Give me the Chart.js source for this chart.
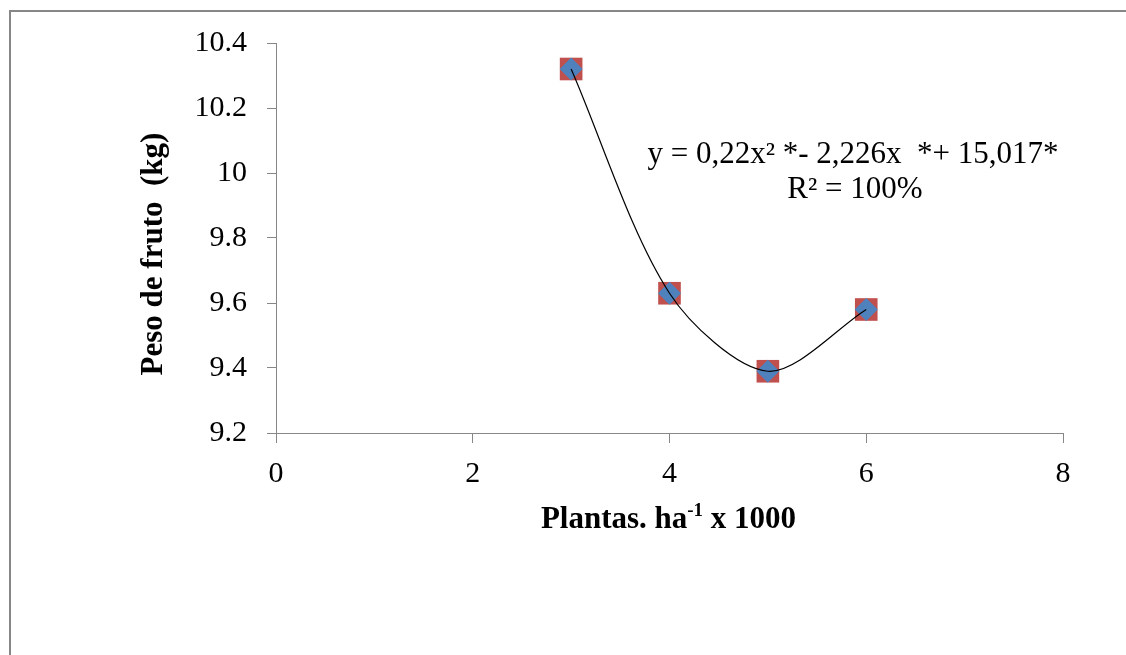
<!DOCTYPE html>
<html>
<head>
<meta charset="utf-8">
<title>Peso de fruto</title>
<script src="https://cdn.jsdelivr.net/npm/chart.js@4.4.1/dist/chart.umd.min.js"></script>
<style>
  html, body { margin: 0; padding: 0; background: #fff; }
  #wrap { width: 1126px; height: 655px; position: relative; }
</style>
</head>
<body>
<div id="wrap"><canvas id="pesoChart" width="1126" height="655"></canvas></div>
<script>
'use strict';

// data
var plantas = [3, 4, 5, 6];                 // Plantas. ha-1 x 1000
var pesoFruto = [10.32, 9.63, 9.39, 9.58];  // kg
var xTicks = [0, 2, 4, 6, 8];
var yTicks = [9.2, 9.4, 9.6, 9.8, 10, 10.2, 10.4];

var equacao = 'y = 0,22x\u00B2 *- 2,226x  *+ 15,017*';
var r2Texto = 'R\u00B2 = 100%';

var serif = "'Liberation Serif', 'Times New Roman', serif";
var axisGray = '#878787';

var points = plantas.map(function (x, i) { return { x: x, y: pesoFruto[i] }; });

// frame + axis titles + equation, drawn on the canvas
var extraText = {
  id: 'extraText',
  beforeDraw: function (chart) {
    var ctx = chart.ctx;
    ctx.save();
    ctx.strokeStyle = axisGray;
    ctx.lineWidth = 2;
    ctx.beginPath();
    ctx.moveTo(10, 655);
    ctx.lineTo(10, 11);
    ctx.lineTo(1126, 11);
    ctx.stroke();
    ctx.restore();
  },
  afterDraw: function (chart) {
    var ctx = chart.ctx;
    var area = chart.chartArea;
    ctx.save();
    ctx.fillStyle = '#000';

    // y title
    ctx.save();
    ctx.translate(154, 254);
    ctx.rotate(-Math.PI / 2);
    ctx.font = 'bold 31px ' + serif;
    ctx.textAlign = 'center';
    ctx.textBaseline = 'middle';
    ctx.fillText('Peso de fruto  (kg)', 0, 0);
    ctx.restore();

    // x title with superscript
    var cx = (area.left + area.right) / 2 - 1;
    var base = 528;
    var big = 'bold 31px ' + serif;
    var small = 'bold 19px ' + serif;
    ctx.textBaseline = 'alphabetic';
    ctx.textAlign = 'left';
    ctx.font = big;
    var p1 = 'Plantas. ha', p3 = ' x 1000';
    var w1 = ctx.measureText(p1).width, w3 = ctx.measureText(p3).width;
    ctx.font = small;
    var w2 = ctx.measureText('-1').width;
    var x0 = cx - (w1 + w2 + w3) / 2;
    ctx.font = big;
    ctx.fillText(p1, x0, base);
    ctx.font = small;
    ctx.fillText('-1', x0 + w1, base - 12);
    ctx.font = big;
    ctx.fillText(p3, x0 + w1 + w2, base);

    // regression equation
    ctx.font = '31px ' + serif;
    ctx.textAlign = 'center';
    ctx.fillText(equacao, 853, 163);
    ctx.fillText(r2Texto, 855, 198);
    ctx.restore();
  }
};

var ctx = document.getElementById('pesoChart').getContext('2d');
var chart = new Chart(ctx, {
  type: 'scatter',
  data: {
    datasets: [
      {
        // trend line through the points, drawn on top
        type: 'line',
        label: 'tendencia',
        data: points,
        borderColor: '#000',
        borderWidth: 1.2,
        pointRadius: 0,
        fill: false,
        tension: 0.3
      },
      {
        label: 'media',
        data: points,
        pointStyle: 'rectRot',
        pointRadius: 11.5,
        backgroundColor: '#4F81BD',
        borderColor: '#4F81BD',
        borderWidth: 0
      },
      {
        label: 'obs',
        data: points,
        pointStyle: 'rect',
        pointRadius: 16,
        backgroundColor: '#C0504D',
        borderColor: '#C0504D',
        borderWidth: 0
      }
    ]
  },
  options: {
    responsive: false,
    animation: false,
    devicePixelRatio: 1,
    layout: { padding: { left: 0, top: 43, right: 63, bottom: 0 } },
    plugins: {
      legend: { display: false },
      tooltip: { enabled: false }
    },
    scales: {
      x: {
        type: 'linear',
        min: 0,
        max: 8,
        afterBuildTicks: function (scale) {
          scale.ticks = xTicks.map(function (v) { return { value: v }; });
        },
        afterFit: function (scale) { scale.height = 222; },
        grid: { drawOnChartArea: false, tickLength: 10, color: axisGray },
        border: { color: axisGray, width: 1 },
        ticks: {
          color: '#000',
          padding: 13,
          font: { family: serif, size: 30 },
          callback: function (v) { return String(v); }
        }
      },
      y: {
        type: 'linear',
        min: 9.2,
        max: 10.4,
        afterBuildTicks: function (scale) {
          scale.ticks = yTicks.map(function (v) { return { value: v }; });
        },
        afterFit: function (scale) { scale.width = 276; },
        grid: { drawOnChartArea: false, tickLength: 9, color: axisGray },
        border: { color: axisGray, width: 1 },
        ticks: {
          color: '#000',
          padding: 20,
          font: { family: serif, size: 30 },
          callback: function (v) { return String(+v.toFixed(1)); }
        }
      }
    }
  },
  plugins: [extraText]
});
</script>
</body>
</html>
